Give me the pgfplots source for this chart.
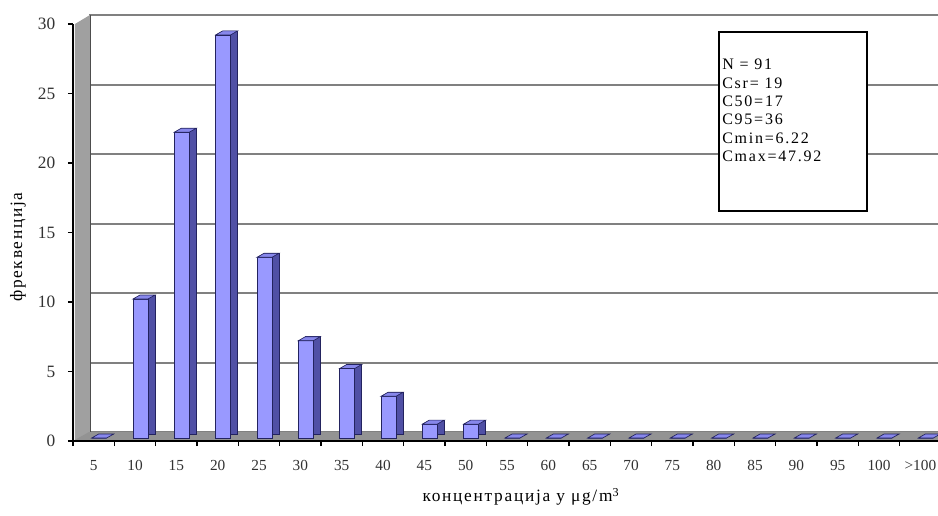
\documentclass[border=0pt]{standalone}
\usepackage{fontspec}
\setmainfont{Liberation Serif}
\newfontfamily\boxfont[LetterSpace=11]{Liberation Serif}
\newfontfamily\labelfont[LetterSpace=10]{Liberation Serif}
\usepackage{pgfplots}
\pgfplotsset{compat=1.18}
\usepackage{pgfplotstable}

\definecolor{barfront}{RGB}{153,153,255}
\definecolor{barside}{RGB}{80,80,165}
\definecolor{bartop}{RGB}{135,135,235}
\definecolor{baredge}{RGB}{35,35,95}
\definecolor{wallgray}{RGB}{160,160,160}
\definecolor{gridgray}{RGB}{128,128,128}
\definecolor{labelgray}{RGB}{50,50,50}

% frequency per concentration class (5 ... 100, >100)
\pgfplotstableread{
idx value
0  0
1  10
2  22
3  29
4  13
5  7
6  5
7  3
8  1
9  1
10 0
11 0
12 0
13 0
14 0
15 0
16 0
17 0
18 0
19 0
20 0
}\freq

% top face of a column (3D look)
\pgfdeclareplotmark{topface}{%
  \pgfpathmoveto{\pgfpoint{-7.5pt}{0pt}}%
  \pgfpathlineto{\pgfpoint{3.75pt}{0pt}}%
  \pgfpathlineto{\pgfpoint{9pt}{3pt}}%
  \pgfpathlineto{\pgfpoint{-2.25pt}{3pt}}%
  \pgfpathclose
  \pgfusepathqfillstroke}

\pgfplotsset{
  chartbase/.style={
    scale only axis, width=651pt, height=312.75pt,
    xmin=-0.5, xmax=20.5, ymin=0, ymax=30,
    anchor=south west,
  },
  hidden/.style={
    axis line style={draw=none}, xtick=\empty, ytick=\empty,
  },
}

\begin{document}
\begin{tikzpicture}
	% back wall with grid lines
	\begin{axis}[chartbase, at={(12pt,6.75pt)},
		axis line style={draw=none}, xtick=\empty,
		ytick={0,5,...,30}, yticklabels={}, major tick length=0pt,
		ymajorgrids, grid style={gridgray, line width=1.5pt}]
	\end{axis}
	% side wall and floor
	\fill[wallgray] (1.5pt,312.75pt) -- (12.75pt,319.5pt) -- (12.75pt,6.75pt) -- (1.5pt,0pt) -- cycle;
	\draw[gridgray!60!black, line width=0.6pt] (12.75pt,319.5pt) -- (12.75pt,6.75pt);
	\fill[wallgray!92!black] (0pt,0pt) -- (12pt,6.75pt) -- (680pt,6.75pt) -- (680pt,0pt) -- cycle;
	% column side faces
	\begin{axis}[chartbase, hidden, at={(11.25pt,5.25pt)}, clip=false]
		\addplot[ybar, bar width=11.25pt, bar shift=-1.875pt,
			fill=barside, draw=baredge, line width=0.5pt]
			table[x=idx, y=value] {\freq};
	\end{axis}
	% column front and top faces
	\begin{axis}[chartbase, hidden, at={(6pt,2.25pt)}, clip=false]
		\addplot[ybar, bar width=11.25pt, bar shift=-1.875pt,
			fill=barfront, draw=baredge, line width=0.5pt]
			table[x=idx, y=value] {\freq};
		\addplot[only marks, mark=topface,
			mark options={fill=bartop, draw=baredge, line width=0.5pt}]
			table[x=idx, y=value] {\freq};
	\end{axis}
	% front axes, ticks and labels
	\begin{axis}[chartbase, at={(0pt,0pt)},
		axis x line*=bottom, axis y line*=left,
		axis line style={black, line width=0.8pt},
		xtick={0,...,20},
		xticklabels={5,10,15,20,25,30,35,40,45,50,55,60,65,70,75,80,85,90,95,100,>100},
		minor xtick={-0.5,0.5,...,20.5},
		major x tick style={draw=none},
		minor tick length=3.75pt,
		ytick={0,5,...,30},
		major tick length=3.75pt,
		tick align=outside,
		tick style={black, line width=0.8pt},
		/pgf/number format/assume math mode=true,
		xticklabel style={font=\fontsize{11.5}{13}\selectfont, text=labelgray, yshift=-7pt},
		yticklabel style={font=\fontsize{13}{15}\selectfont, text=labelgray, xshift=-6pt},
		xlabel={концентрација у μg/m\textsuperscript{3}},
		ylabel={фреквенција},
		label style={font=\labelfont\fontsize{13}{15}\selectfont, text=black},
		xlabel style={at={(axis description cs:0.516,-0.134)}, anchor=center},
		ylabel style={at={(axis description cs:-0.0634,0.465)}, anchor=center, rotate=0},
	]
	\end{axis}
	% statistics box
	\draw[black, line width=1pt, fill=white] (484.5pt,306.75pt) rectangle (595.5pt,172.5pt);
	\node[anchor=north west, inner sep=0pt, align=left,
		font=\boxfont\fontsize{12}{13.75}\selectfont]
		at (486.75pt,286.5pt) {N = 91\\Csr= 19\\C50=17\\C95=36\\Cmin=6.22\\Cmax=47.92};
	% picture frame as in the reference
	\pgfresetboundingbox
	\useasboundingbox (-54.75pt,-55.5pt) rectangle (648.75pt,330.75pt);
\end{tikzpicture}
\end{document}
